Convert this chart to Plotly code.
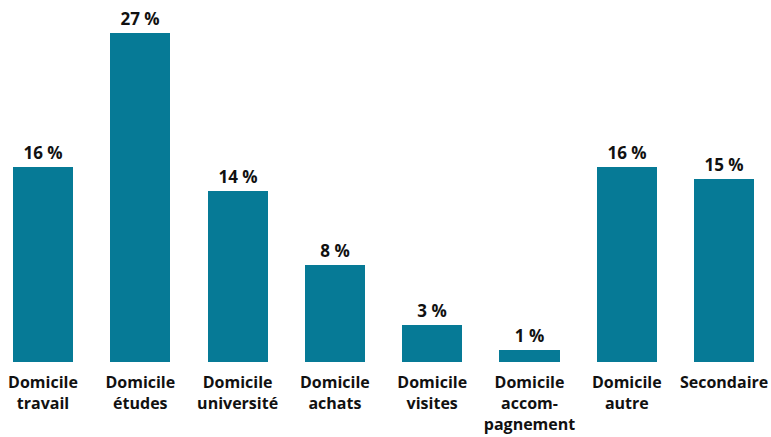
import plotly.graph_objects as go

categories = [
    "Domicile<br>travail",
    "Domicile<br>études",
    "Domicile<br>université",
    "Domicile<br>achats",
    "Domicile<br>visites",
    "Domicile<br>accom-<br>pagnement",
    "Domicile<br>autre",
    "Secondaire",
]
shares = [16, 27, 14, 8, 3, 1, 16, 15]
value_labels = [f"{v} %" for v in shares]

BAR_COLOR = "#067A96"
FONT = "Open Sans"

positions = list(range(len(categories)))

fig = go.Figure(
    go.Bar(
        x=positions,
        y=shares,
        width=0.617,
        marker=dict(color=BAR_COLOR, line=dict(width=0)),
        text=value_labels,
        textposition="outside",
        textfont=dict(family=FONT, size=17, color="#111111", weight="bold"),
        cliponaxis=False,
        hoverinfo="skip",
    )
)

fig.update_layout(
    width=771,
    height=437,
    margin=dict(l=0, r=0, t=20, b=75, autoexpand=False),
    paper_bgcolor="white",
    plot_bgcolor="white",
    showlegend=False,
    bargap=0,
)

fig.update_xaxes(
    range=[-0.442, 7.482],
    tickmode="array",
    tickvals=positions,
    ticktext=categories,
    tickfont=dict(family=FONT, size=16, color="#111111", weight="bold"),
    ticks="outside",
    ticklen=6,
    tickcolor="rgba(0,0,0,0)",
    automargin=False,
    showgrid=False,
    zeroline=False,
    showline=False,
)

fig.update_yaxes(
    range=[0, 28.07],
    visible=False,
    automargin=False,
    showgrid=False,
    zeroline=False,
)

fig.write_html("out.html")
